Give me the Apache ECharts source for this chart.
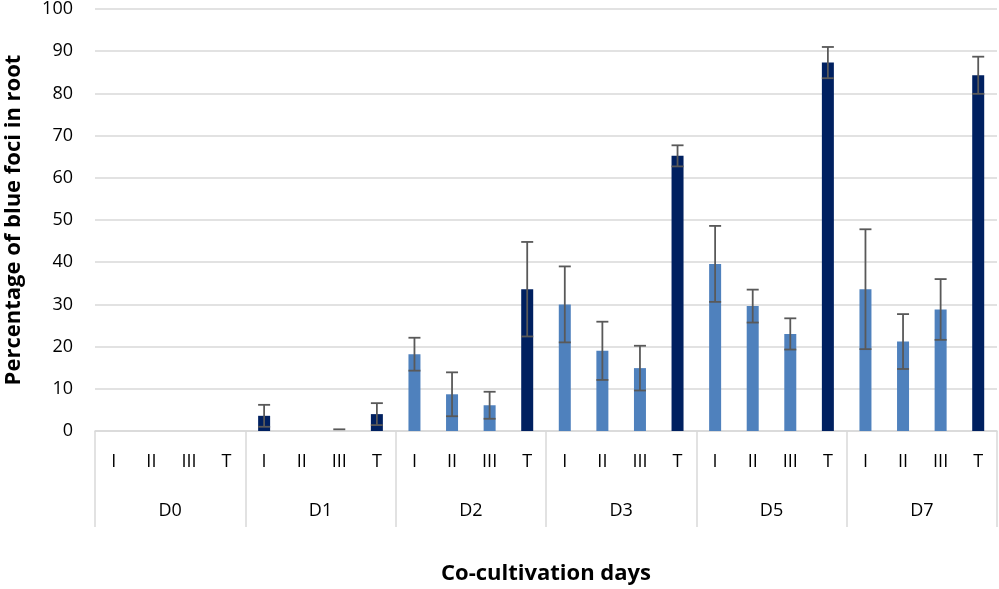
<!DOCTYPE html>
<html>
<head>
<meta charset="utf-8">
<script src="https://cdn.jsdelivr.net/npm/echarts@6/dist/echarts.min.js"></script>
<style>html,body{margin:0;padding:0;background:#fff}#c{width:999px;height:589px}</style>
</head>
<body>
<div id="c"></div>
<script>
var groups = ['D0', 'D1', 'D2', 'D3', 'D5', 'D7'];
var subs = ['I', 'II', 'III', 'T'];
var values = [
  0, 0, 0, 0,
  3.6, 0, 0, 4.0,
  18.2, 8.7, 6.1, 33.6,
  30.0, 19.0, 14.9, 65.2,
  39.6, 29.6, 23.0, 87.3,
  33.6, 21.2, 28.8, 84.3
];
var errors = [
  0, 0, 0, 0,
  2.6, 0, 0.4, 2.6,
  3.9, 5.2, 3.2, 11.2,
  9.0, 6.9, 5.3, 2.5,
  9.0, 3.9, 3.7, 3.7,
  14.2, 6.5, 7.2, 4.4
];
var darkIdx = [3, 4, 7, 11, 15, 19, 23];
var yTicks = [0, 10, 20, 30, 40, 50, 60, 70, 80, 90, 100];

var cats = [];
groups.forEach(function (g) { subs.forEach(function (s) { cats.push(s); }); });
var LIGHT = '#4f81bd', DARK = '#002060';
var barData = values.map(function (v, i) {
  return { value: v, itemStyle: { color: darkIdx.indexOf(i) >= 0 ? DARK : LIGHT } };
});
var errData = [];
values.forEach(function (v, i) {
  if (errors[i] > 0) errData.push([i, Math.max(0, v - errors[i]), v + errors[i], v]);
});

var chart = echarts.init(document.getElementById('c'));
var font = 'Open Sans';
chart.setOption({
  animation: false,
  grid: { left: 95, right: 2, top: 9, bottom: 158, containLabel: false, outerBoundsMode: 'none' },
  xAxis: [{
    type: 'category', data: cats, position: 'bottom',
    axisLine: { show: true, lineStyle: { color: '#d9d9d9', width: 1.5 } },
    axisTick: { show: false },
    axisLabel: { interval: 0, margin: 22, fontSize: 18, color: '#000', fontFamily: font },
    name: 'Co-cultivation days', nameLocation: 'middle', nameGap: 132,
    nameTextStyle: { fontSize: 22, fontWeight: 'bold', color: '#000', fontFamily: font }
  }, {
    type: 'category', data: groups, position: 'bottom', gridIndex: 0,
    axisLine: { show: false },
    axisTick: { show: true, length: 96, interval: 0, lineStyle: { color: '#d9d9d9', width: 1.5 } },
    axisLabel: { interval: 0, margin: 71, fontSize: 18, color: '#000', fontFamily: font }
  }],
  yAxis: {
    type: 'value', min: 0, max: 100, interval: 10,
    axisLine: { show: false }, axisTick: { show: false },
    splitLine: { lineStyle: { color: '#d9d9d9', width: 1.5 } },
    axisLabel: { fontSize: 18, color: '#000', margin: 22, fontFamily: font,
      formatter: function (v) { return yTicks.indexOf(v) >= 0 ? String(v) : ''; } },
    name: 'Percentage of blue foci in root', nameLocation: 'middle', nameGap: 70,
    nameTextStyle: { fontSize: 22, fontWeight: 'bold', color: '#000', fontFamily: font }
  },
  series: [{
    type: 'bar', data: barData, barWidth: 12, xAxisIndex: 0
  }, {
    type: 'custom', xAxisIndex: 0, data: errData, z: 10,
    renderItem: function (params, api) {
      var x = api.value(0);
      var lo = api.coord([x, api.value(1)]);
      var hi = api.coord([x, api.value(2)]);
      var hw = 6;
      var st = { stroke: '#595959', lineWidth: 1.8 };
      var kids = [
        { type: 'line', shape: { x1: hi[0] - hw, y1: hi[1], x2: hi[0] + hw, y2: hi[1] }, style: st }
      ];
      if (api.value(3) > 0) {
        kids.push({ type: 'line', shape: { x1: hi[0], y1: hi[1], x2: lo[0], y2: lo[1] }, style: st });
        kids.push({ type: 'line', shape: { x1: lo[0] - hw, y1: lo[1], x2: lo[0] + hw, y2: lo[1] }, style: st });
      }
      return { type: 'group', children: kids };
    }
  }]
});
</script>
</body>
</html>
